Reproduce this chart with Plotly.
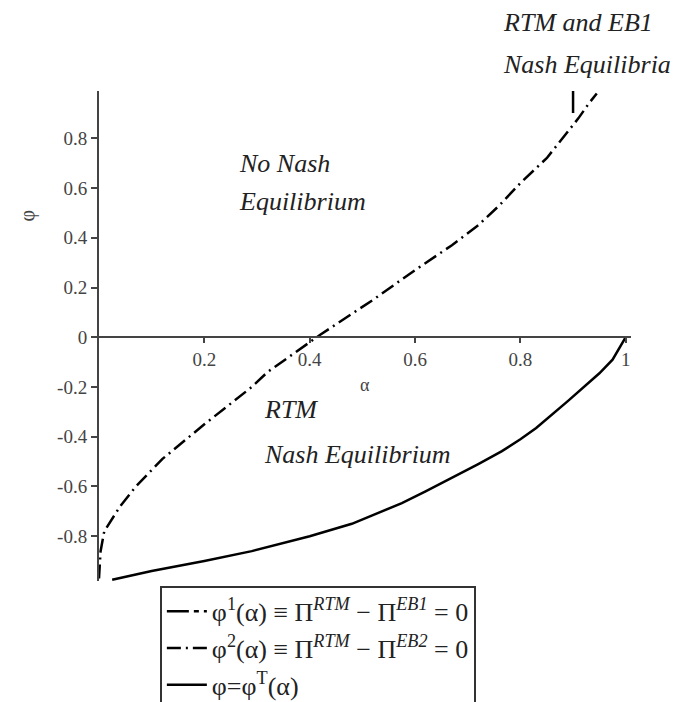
import plotly.graph_objects as go

# ---- data ----
alpha_1 = [0.9, 0.9, 0.9]
phi_1 = [0.99, 0.93, 0.885]

alpha_2 = [0.0, 0.003, 0.01, 0.04, 0.07, 0.12, 0.2, 0.29, 0.32, 0.42, 0.52, 0.6,
           0.67, 0.72, 0.76, 0.8, 0.85, 0.88, 0.91, 0.93, 0.945]
phi_2 = [-0.97, -0.86, -0.78, -0.68, -0.60, -0.49, -0.35, -0.20, -0.14, 0.01, 0.15, 0.27,
         0.37, 0.45, 0.53, 0.62, 0.72, 0.80, 0.88, 0.94, 0.98]

alpha_T = [0.025, 0.1, 0.2, 0.29, 0.4, 0.48, 0.52, 0.575, 0.62, 0.67, 0.72, 0.765, 0.8,
           0.83, 0.89, 0.95, 0.975, 1.0]
phi_T = [-0.975, -0.94, -0.90, -0.86, -0.80, -0.75, -0.715, -0.667, -0.62, -0.566, -0.51,
         -0.458, -0.41, -0.365, -0.257, -0.145, -0.09, 0.0]

x_tickvals = [0.2, 0.4, 0.6, 0.8, 1.0]
x_ticktext = ["0.2", "0.4", "0.6", "0.8", "1"]
y_tickvals = [-0.8, -0.6, -0.4, -0.2, 0, 0.2, 0.4, 0.6, 0.8]
y_ticktext = ["-0.8", "-0.6", "-0.4", "-0.2", "0", "0.2", "0.4", "0.6", "0.8"]

legend_1 = "φ<sup>1</sup>(α) ≡ Π<sup><i>RTM</i></sup> − Π<sup><i>EB1</i></sup> = 0"
legend_2 = "φ<sup>2</sup>(α) ≡ Π<sup><i>RTM</i></sup> − Π<sup><i>EB2</i></sup> = 0"
legend_T = "φ=φ<sup>T</sup>(α)"

X_RANGE = [0, 1.01]
Y_RANGE = [-0.98, 0.99]

SERIF = "Liberation Serif, Times New Roman, serif"

fig = go.Figure()
fig.add_trace(go.Scatter(x=alpha_1, y=phi_1, mode="lines", name=legend_1,
                         line=dict(color="black", width=2.5, dash="22px,5px,5px,5px")))
fig.add_trace(go.Scatter(x=alpha_2, y=phi_2, mode="lines", name=legend_2,
                         line=dict(color="black", width=2.5, dash="14px,5px,2px,5px")))
fig.add_trace(go.Scatter(x=alpha_T, y=phi_T, mode="lines", name=legend_T,
                         line=dict(color="black", width=2.5)))

xpos = (0 - Y_RANGE[0]) / (Y_RANGE[1] - Y_RANGE[0])

fig.update_layout(
    width=681, height=702,
    margin=dict(l=91, r=58, t=83, b=129, autoexpand=False),
    plot_bgcolor="white", paper_bgcolor="white",
    showlegend=True,
    legend=dict(x=0.223, y=0.177, xref="container", yref="container",
                xanchor="left", yanchor="top",
                bordercolor="#333", borderwidth=2, bgcolor="white",
                font=dict(family=SERIF, size=26, color="#222"),
                tracegroupgap=0, itemwidth=40),
    xaxis=dict(range=X_RANGE, anchor="free", position=xpos,
               showline=True, linecolor="#444", linewidth=2,
               ticks="outside", ticklen=5, tickcolor="#444", tickwidth=1.5,
               tickvals=x_tickvals, ticktext=x_ticktext,
               tickfont=dict(family=SERIF, size=19, color="#444"),
               showgrid=False, zeroline=False),
    yaxis=dict(range=Y_RANGE, showline=True, linecolor="#444", linewidth=2,
               ticks="outside", ticklen=6, tickcolor="#444", tickwidth=1.5,
               tickvals=y_tickvals, ticktext=y_ticktext,
               tickfont=dict(family=SERIF, size=19, color="#444"),
               showgrid=False, zeroline=False),
)

ann_font = dict(family=SERIF, size=26, color="#222")
annotations = [
    dict(x=0.262, y=0.70, xref="x", yref="y", text="<i>No Nash</i>"),
    dict(x=0.262, y=0.545, xref="x", yref="y", text="<i>Equilibrium</i>"),
    dict(x=0.31, y=-0.29, xref="x", yref="y", text="<i>RTM</i>"),
    dict(x=0.31, y=-0.47, xref="x", yref="y", text="<i>Nash Equilibrium</i>"),
    dict(x=0.755, y=1.14, xref="paper", yref="paper", text="<i>RTM and EB1</i>"),
    dict(x=0.755, y=1.055, xref="paper", yref="paper", text="<i>Nash Equilibria</i>"),
]
for a in annotations:
    fig.add_annotation(showarrow=False, xanchor="left", yanchor="middle", font=ann_font, **a)

fig.add_annotation(x=0.505, y=-0.19, xref="x", yref="y", text="α", showarrow=False,
                   xanchor="center", font=dict(family=SERIF, size=18, color="#444"))
fig.add_annotation(x=-0.135, y=0.49, xref="paper", yref="y", text="φ", showarrow=False,
                   xanchor="center", yanchor="middle",
                   textangle=-90, font=dict(family=SERIF, size=20, color="#444"))

fig.write_html("out.html")
